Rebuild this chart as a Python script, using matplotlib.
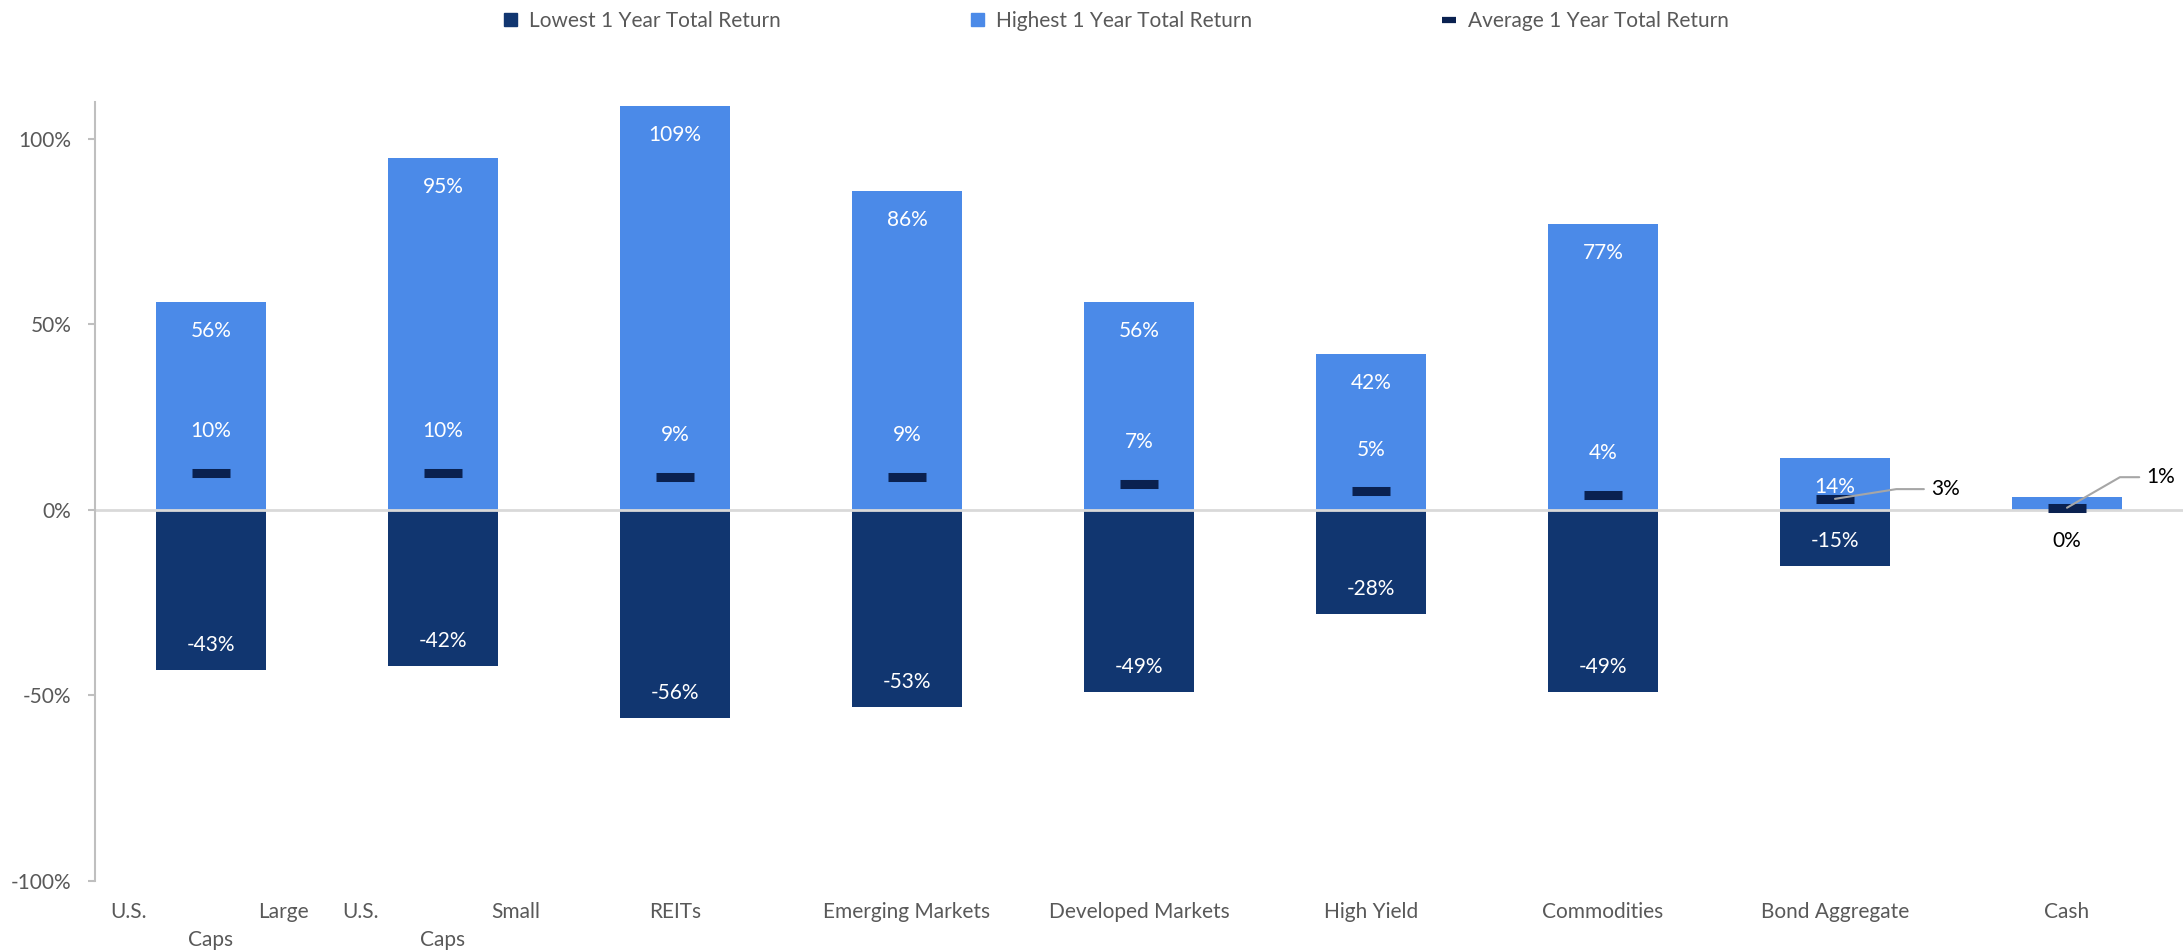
import numpy as np
import matplotlib
matplotlib.use("Agg")
from matplotlib import pyplot as plt
from matplotlib.lines import Line2D
from matplotlib.patches import Patch
import matplotlib.transforms as mtransforms

plt.rcParams['font.family'] = ['Lato', 'DejaVu Sans']

categories = ["U.S. Large Caps", "U.S. Small Caps", "REITs", "Emerging Markets",
              "Developed Markets", "High Yield", "Commodities", "Bond Aggregate", "Cash"]
lowest = [-43, -42, -56, -53, -49, -28, -49, -15, 0]
highest = [56, 95, 109, 86, 56, 42, 77, 14, 3.4]
average = [10, 10, 9, 9, 7, 5, 4, 3, 0.6]

light_blue = '#4b8ae8'
navy = '#113670'
dark = '#0a2150'
grey_txt = '#595959'

fig = plt.figure(figsize=(21.83, 9.52), dpi=100)
ax = fig.add_axes([0.0435, 0.0746, 0.9565, 0.8184])

x = np.arange(len(categories))
w = 0.478
ax.bar(x, highest, width=w, color=light_blue, zorder=2)
ax.bar(x, lowest, width=w, color=navy, zorder=2)
ax.axhline(0, color='#d9d9d9', lw=2, zorder=2.5)
ax.plot(x, average, linestyle='none', marker='_', markersize=27.5,
        markeredgewidth=6.5, color=dark, zorder=4)

ax.set_xlim(-0.5, len(categories) - 0.5)
ax.set_ylim(-100, 110)
ax.set_yticks([-100, -50, 0, 50, 100])
ax.set_yticklabels([f"{v}%" for v in [-100, -50, 0, 50, 100]])
ax.tick_params(axis='y', length=5, width=1.5, color='#bfbfbf', labelsize=15,
               labelcolor=grey_txt, pad=12)
ax.set_xticks([])
for s in ['top', 'right', 'bottom']:
    ax.spines[s].set_visible(False)
ax.spines['left'].set_color('#bfbfbf')
ax.spines['left'].set_linewidth(1.5)

fs = 15
for i in range(len(categories)):
    # highest labels (inside end)
    if i < len(categories) - 1:
        ax.annotate(f"{highest[i]:.0f}%", (i, highest[i]), xytext=(0, -21),
                    textcoords='offset points', ha='center', va='center',
                    color='white', fontsize=fs, zorder=5)
    # lowest labels
    if lowest[i] < 0:
        ax.annotate(f"{lowest[i]:.0f}%", (i, lowest[i]), xytext=(0, 18),
                    textcoords='offset points', ha='center', va='center',
                    color='white', fontsize=fs, zorder=5)
    else:
        ax.annotate(f"{lowest[i]:.0f}%", (i, lowest[i]), xytext=(0, -22),
                    textcoords='offset points', ha='center', va='center',
                    color='black', fontsize=fs, zorder=5)
    # average labels
    if i < 7:
        ax.annotate(f"{average[i]:.0f}%", (i, average[i]), xytext=(0, 30),
                    textcoords='offset points', ha='center', va='center',
                    color='white', fontsize=fs, zorder=5)

# callouts for the small bars
callouts = {7: ((69, 7), 9), 8: ((57, 22), 30)}
for i, (off, ang) in callouts.items():
    ax.annotate(f"{average[i]:.0f}%", (i, average[i]), xytext=off,
                textcoords='offset points', ha='left', va='center',
                color='black', fontsize=fs, zorder=5,
                arrowprops=dict(arrowstyle='-', color='#a6a6a6', lw=1.5,
                                shrinkA=3, shrinkB=0, relpos=(0, 0.5),
                                connectionstyle=f'angle,angleA=180,angleB={ang},rad=0'))

# category labels (long ones wrapped and justified like the original)
trans = mtransforms.blended_transform_factory(ax.transData, ax.transAxes)
for i, name in enumerate(categories):
    words = name.split()
    if len(words) == 3 and words[0] == "U.S.":
        ax.annotate(words[0], (i - 0.435, 0), xycoords=trans, xytext=(0, -15),
                    textcoords='offset points', ha='left', va='top',
                    color=grey_txt, fontsize=fs)
        ax.annotate(words[1], (i + 0.42, 0), xycoords=trans, xytext=(0, -15),
                    textcoords='offset points', ha='right', va='top',
                    color=grey_txt, fontsize=fs)
        ax.annotate(words[2], (i, 0), xycoords=trans, xytext=(0, -35),
                    textcoords='offset points', ha='center', va='top',
                    color=grey_txt, fontsize=fs)
    else:
        ax.annotate(name, (i, 0), xycoords=trans, xytext=(0, -15),
                    textcoords='offset points', ha='center', va='top',
                    color=grey_txt, fontsize=fs)

handles = [Patch(color=navy), Patch(color=light_blue),
           Line2D([0], [0], linestyle='none', marker='_', markersize=10,
                  markeredgewidth=4.5, color=dark)]
labels = ["Lowest 1 Year Total Return", "Highest 1 Year Total Return",
          "Average 1 Year Total Return"]
fig.legend(handles, labels, loc='center', bbox_to_anchor=(0.5115, 0.978), ncol=3,
           frameon=False, fontsize=fs, labelcolor=grey_txt, handlelength=0.6,
           handleheight=0.6, handletextpad=0.6, columnspacing=9.15)

plt.savefig("out.png", dpi=100)
